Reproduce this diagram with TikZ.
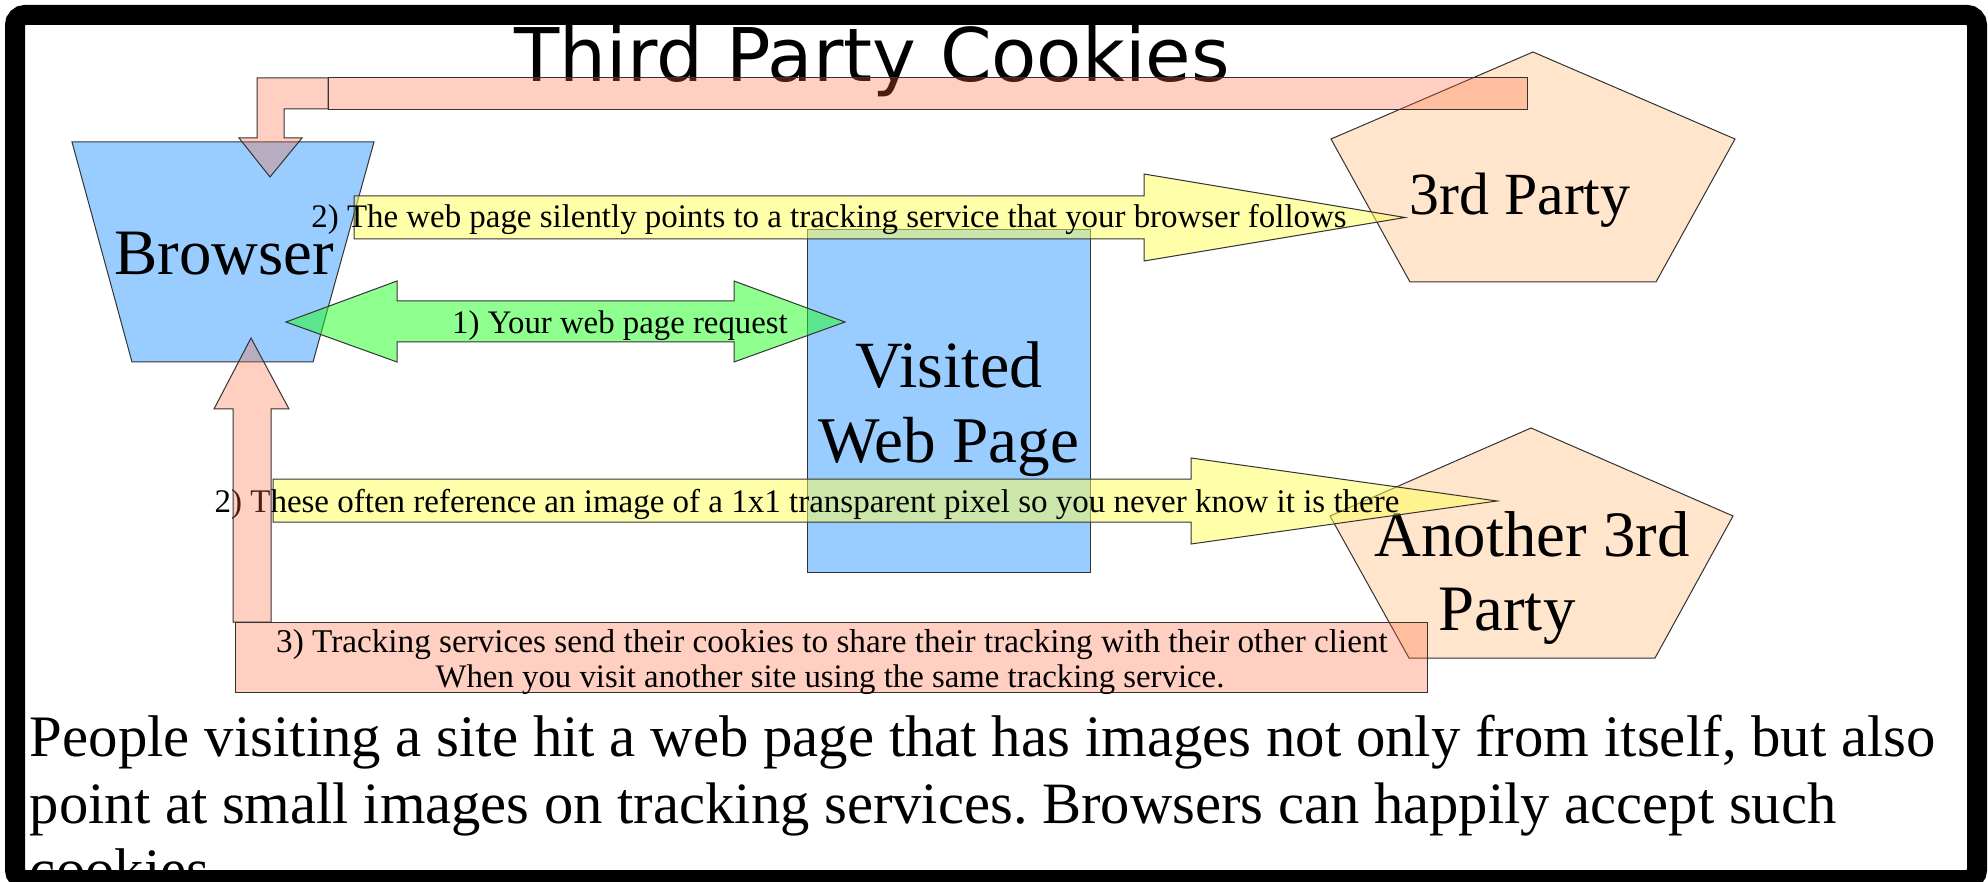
\documentclass[tikz,border=0pt]{standalone}
\usepackage{fontspec}
\setmainfont{Liberation Serif}
\newfontfamily\titlefont{DejaVu Sans}
\definecolor{boxblue}{HTML}{99CCFF}
\definecolor{peach}{HTML}{FFE5CC}
\definecolor{salmon}{HTML}{FF6633}
\definecolor{lemon}{HTML}{FFFF55}
\definecolor{lime}{HTML}{20FF20}
\definecolor{edge}{HTML}{333333}
\tikzset{
  shapeline/.style={draw=edge, line width=0.5pt, line join=miter},
  bluebox/.style={shapeline, fill=boxblue},
  partybox/.style={shapeline, fill=peach},
  pinkarrow/.style={shapeline, fill=salmon, fill opacity=0.3},
  yellowarrow/.style={shapeline, fill=lemon, fill opacity=0.5},
  greenarrow/.style={shapeline, fill=lime, fill opacity=0.5},
  lbl/.style={inner sep=0pt, outer sep=0pt, anchor=base},
  lblw/.style={inner sep=0pt, outer sep=0pt, anchor=base west},
}
\newcommand{\fsz}[2]{\fontsize{#1}{#2}\selectfont}
\frenchspacing
\begin{document}
\begin{tikzpicture}[x=0.5pt,y=-0.5pt]
\useasboundingbox (0,0) rectangle (1988,882);
\fill[white] (0,0) rectangle (1988,882);

% title
\node[lbl] (title) at (872,82) {\titlefont\fsz{37}{44}Third Party Cookies};

% Browser
\draw[bluebox] (72,142) -- (374,142) -- (313,362) -- (132,362) -- cycle;
\node[lbl] (browser) at (224,275) {\fsz{32.4}{38}Browser};

% Visited web page
\draw[bluebox] (807,230) rectangle (1090,572);
\node[lbl] (visited1) at (949,387) {\fsz{33}{38}Visited};
\node[lbl] (visited2) at (949,462) {\fsz{32.6}{38}Web Page};

% 3rd party pentagons
\draw[partybox] (1533,52) -- (1735,139) -- (1656,282) -- (1410,282) -- (1331,139) -- cycle;
\node[lbl] (third) at (1520,215) {\fsz{29.9}{35}3rd Party};
\draw[partybox] (1531,428) -- (1733,516) -- (1655,658) -- (1409,658) -- (1330,516) -- cycle;
\node[lbl] (another1) at (1532,556) {\fsz{32.4}{38}Another 3rd};
\node[lbl] (another2) at (1507,630) {\fsz{32.4}{38}Party};

% 1) green double arrow
\draw[greenarrow] (286,322) -- (397,281) -- (397,301) -- (734,301) -- (734,281) -- (845,322)
  -- (734,362) -- (734,342) -- (397,342) -- (397,362) -- cycle;
\node[lbl] (req) at (620,334) {\fsz{16.4}{19}1) Your web page request};

% 2) upper yellow arrow
\draw[yellowarrow] (354,196) -- (1144,196) -- (1144,174) -- (1405,217.5) -- (1144,261)
  -- (1144,239) -- (354,239) -- cycle;
\node[lbl] (silent) at (829,228) {\fsz{16.45}{19}2) The web page silently points to a tracking service that your browser follows};

% 2) lower yellow arrow
\draw[yellowarrow] (273,479) -- (1191,479) -- (1191,458) -- (1497,501) -- (1191,544)
  -- (1191,522) -- (273,522) -- cycle;
\node[lbl] (pixel) at (807,512) {\fsz{16.5}{19}2) These often reference an image of a 1x1 transparent pixel so you never know it is there};

% pink return path (top)
\draw[pinkarrow] (328,78) rectangle (1527,110);
\draw[pinkarrow] (257,78) -- (328,78) -- (328,109) -- (284,109) -- (284,138) -- (302,138)
  -- (270,177) -- (239,138) -- (257,138) -- cycle;

% pink up arrow (left)
\draw[pinkarrow] (233,622) -- (233,409) -- (214,409) -- (251,338) -- (289,409) -- (271,409)
  -- (271,622) -- cycle;

% 3) pink box
\draw[pinkarrow] (235,622) rectangle (1427,692);
\node[lbl] (share1) at (832,652) {\fsz{16.6}{19}3) Tracking services send their cookies to share their tracking with their other client};
\node[lbl] (share2) at (830,687) {\fsz{16.4}{19}When you visit another site using the same tracking service.};

% paragraph
\node[lblw] (para1) at (30,756) {\fsz{29.4}{35}People visiting a site hit a web page that has images not only from itself, but also};
\node[lblw] (para2) at (30,823) {\fsz{29.3}{35}point at small images on tracking services. Browsers can happily accept such};
\node[lblw] (para3) at (30,889) {\fsz{29.4}{35}cookies};

% frame
\draw[line width=10pt, rounded corners=5pt] (15,15) rectangle (1977,880);
\end{tikzpicture}
\end{document}
